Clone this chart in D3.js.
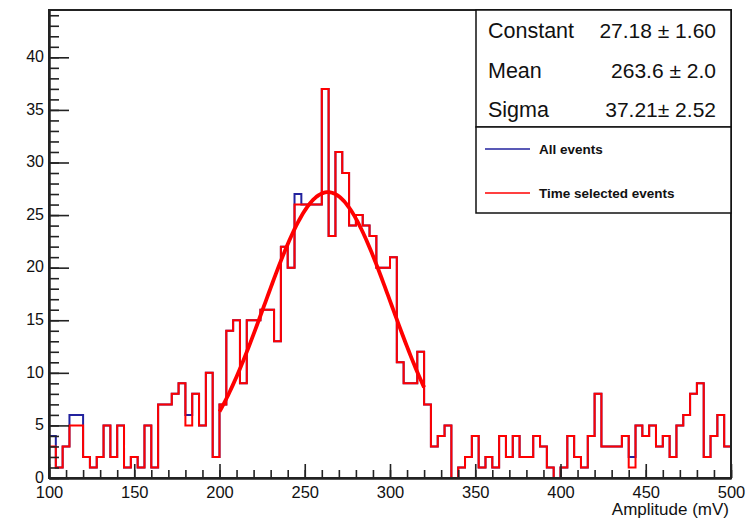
<!DOCTYPE html>
<html>
<head>
<meta charset="utf-8">
<script src="https://cdn.jsdelivr.net/npm/d3@7/dist/d3.min.js"></script>
<style>
body { margin: 0; background: #fff; }
text { font-family: "Liberation Sans", Arial, sans-serif; fill: #111; }
</style>
</head>
<body>
<div id="chart"></div>
<script>
// histogram: 100 bins of 4 mV between 100 and 500
var xRange = [100, 500]
var binWidth = 4

// time selected events (red)
var selectedCounts = [
    3, 1, 3, 5, 5, 2, 1, 2, 5, 2,
    5, 1, 2, 1, 5, 1, 7, 7, 8, 9,
    5, 8, 5, 10, 2, 7, 14, 15, 9, 15,
    15, 16, 16, 13, 22, 20, 26, 26, 26, 26,
    37, 23, 31, 29, 24, 25, 24, 23, 20, 20,
    21, 11, 9, 9, 12, 7, 3, 4, 5, 0,
    1, 2, 4, 1, 2, 1, 4, 2, 4, 2,
    2, 4, 3, 1, 0, 1, 4, 2, 1, 4,
    8, 3, 3, 3, 4, 1, 5, 4, 5, 3,
    4, 2, 5, 6, 8, 9, 2, 4, 6, 3
]

// all events (blue) - mostly hidden under the red one
var allCounts = [
    4, 1, 3, 6, 6, 2, 1, 2, 5, 2,
    5, 1, 2, 1, 5, 1, 7, 7, 8, 9,
    6, 8, 5, 10, 2, 7, 14, 15, 9, 15,
    15, 16, 16, 13, 22, 20, 27, 26, 26, 26,
    37, 23, 31, 29, 24, 25, 24, 23, 20, 20,
    21, 11, 9, 9, 12, 7, 3, 4, 5, 0,
    1, 2, 4, 1, 2, 1, 4, 2, 4, 2,
    2, 4, 3, 1, 0, 1, 4, 2, 1, 4,
    8, 3, 3, 3, 4, 2, 5, 4, 5, 3,
    4, 2, 5, 6, 8, 9, 2, 4, 6, 3
]

// gaus fit (from the stats box)
var fitConstant = 27.18
var fitMean = 263.6
var fitSigma = 37.21
var fitRange = [200, 320]

var statNames = ["Constant", "Mean", "Sigma"]
var statValues = ["27.18 \u00b1 1.60", "263.6 \u00b1 2.0", "37.21\u00b1 2.52"]
var legendLabels = ["All events", "Time selected events"]

var yTicks = [0, 5, 10, 15, 20, 25, 30, 35, 40]
var xTicks = [100, 150, 200, 250, 300, 350, 400, 450, 500]

var width = 749, height = 520
var frame = {left: 49, right: 731, top: 10, bottom: 478}

var svg = d3.select("#chart")
    .append("svg")
    .attr("width", width)
    .attr("height", height)

var x = d3.scaleLinear().domain(xRange).range([frame.left, frame.right])
var y = d3.scaleLinear().domain([0, 44.5]).range([frame.bottom, frame.top])

//histogram outline points
function histPoints(counts) {
    var pts = [[xRange[0], 0]]
    counts.forEach((c, i) => pts.push([xRange[0] + i * binWidth, c]))
    pts.push([xRange[1], counts[counts.length - 1]])
    pts.push([xRange[1], 0])
    return pts
}

var histLine = d3.line()
    .x(d => x(d[0]))
    .y(d => y(d[1]))
    .curve(d3.curveStepAfter)

var blue = "#22229e", red = "#ff0000"

svg.append("path")
    .attr("d", histLine(histPoints(allCounts)))
    .attr("fill", "none")
    .attr("stroke", blue)
    .attr("stroke-width", 2)

svg.append("path")
    .attr("d", histLine(histPoints(selectedCounts)))
    .attr("fill", "none")
    .attr("stroke", red)
    .attr("stroke-width", 2)

//fit curve
var fitX = d3.range(fitRange[0], fitRange[1] + 0.5, 1)
var gaus = v => fitConstant * Math.exp(-0.5 * Math.pow((v - fitMean) / fitSigma, 2))
svg.append("path")
    .attr("d", d3.line().x(d => x(d)).y(d => y(gaus(d)))(fitX))
    .attr("fill", "none")
    .attr("stroke", red)
    .attr("stroke-width", 3.8)

//frame
svg.append("rect")
    .attr("x", frame.left)
    .attr("y", frame.top)
    .attr("width", frame.right - frame.left)
    .attr("height", frame.bottom - frame.top)
    .attr("fill", "none")
    .attr("stroke", "#222")
    .attr("stroke-width", 2)

//axes, ticks pointing inside like ROOT
var yAxis = svg.append("g")
    .attr("transform", `translate(${frame.left},0)`)
    .call(d3.axisLeft(y).tickValues(yTicks).tickSizeInner(-20).tickSizeOuter(0).tickPadding(5))
var yMinor = svg.append("g")
    .attr("transform", `translate(${frame.left},0)`)
    .call(d3.axisLeft(y).tickValues(d3.range(0, 45, 1)).tickSizeInner(-10).tickSizeOuter(0).tickFormat(""))

var xAxis = svg.append("g")
    .attr("transform", `translate(0,${frame.bottom})`)
    .call(d3.axisBottom(x).tickValues(xTicks).tickSizeInner(-14).tickSizeOuter(0).tickPadding(10))
var xMinor = svg.append("g")
    .attr("transform", `translate(0,${frame.bottom})`)
    .call(d3.axisBottom(x).tickValues(d3.range(100, 501, 10)).tickSizeInner(-8).tickSizeOuter(0).tickFormat(""))

svg.selectAll(".domain").attr("stroke", "#222").attr("stroke-width", 2)
svg.selectAll(".tick line").attr("stroke", "#222").attr("stroke-width", 1.6)
yAxis.selectAll("text").attr("font-size", "16px").attr("fill", "#111").attr("dy", "0.26em")
xAxis.selectAll("text").attr("font-size", "16.5px").attr("fill", "#111").attr("dy", "0.62em")

svg.append("text")
    .attr("x", 729)
    .attr("y", 515)
    .attr("text-anchor", "end")
    .attr("font-size", "17px")
    .text("Amplitude (mV)")

//stats box
var box = {left: 476, right: 731, top: 10, mid: 127, bottom: 213}
svg.append("rect")
    .attr("x", box.left).attr("y", box.top)
    .attr("width", box.right - box.left).attr("height", box.mid - box.top)
    .attr("fill", "#fff").attr("stroke", "#111").attr("stroke-width", 1.5)
svg.append("rect")
    .attr("x", box.left).attr("y", box.mid)
    .attr("width", box.right - box.left).attr("height", box.bottom - box.mid)
    .attr("fill", "#fff").attr("stroke", "#111").attr("stroke-width", 1.5)

var statY = [38, 78, 117]
statNames.forEach((s, i) => {
    svg.append("text").attr("x", 488).attr("y", statY[i])
        .attr("font-size", "21.5px").text(s)
    svg.append("text").attr("x", 716).attr("y", statY[i])
        .attr("text-anchor", "end").attr("font-size", "21px").text(statValues[i])
})

var legendY = [149, 193]
var legendColors = [blue, red]
legendLabels.forEach((l, i) => {
    svg.append("line")
        .attr("x1", 485).attr("x2", 530)
        .attr("y1", legendY[i]).attr("y2", legendY[i])
        .attr("stroke", legendColors[i]).attr("stroke-width", 1.5)
    svg.append("text").attr("x", 539).attr("y", legendY[i] + 4.5)
        .attr("font-size", "13.5px").attr("font-weight", "bold").text(l)
})
</script>
</body>
</html>
